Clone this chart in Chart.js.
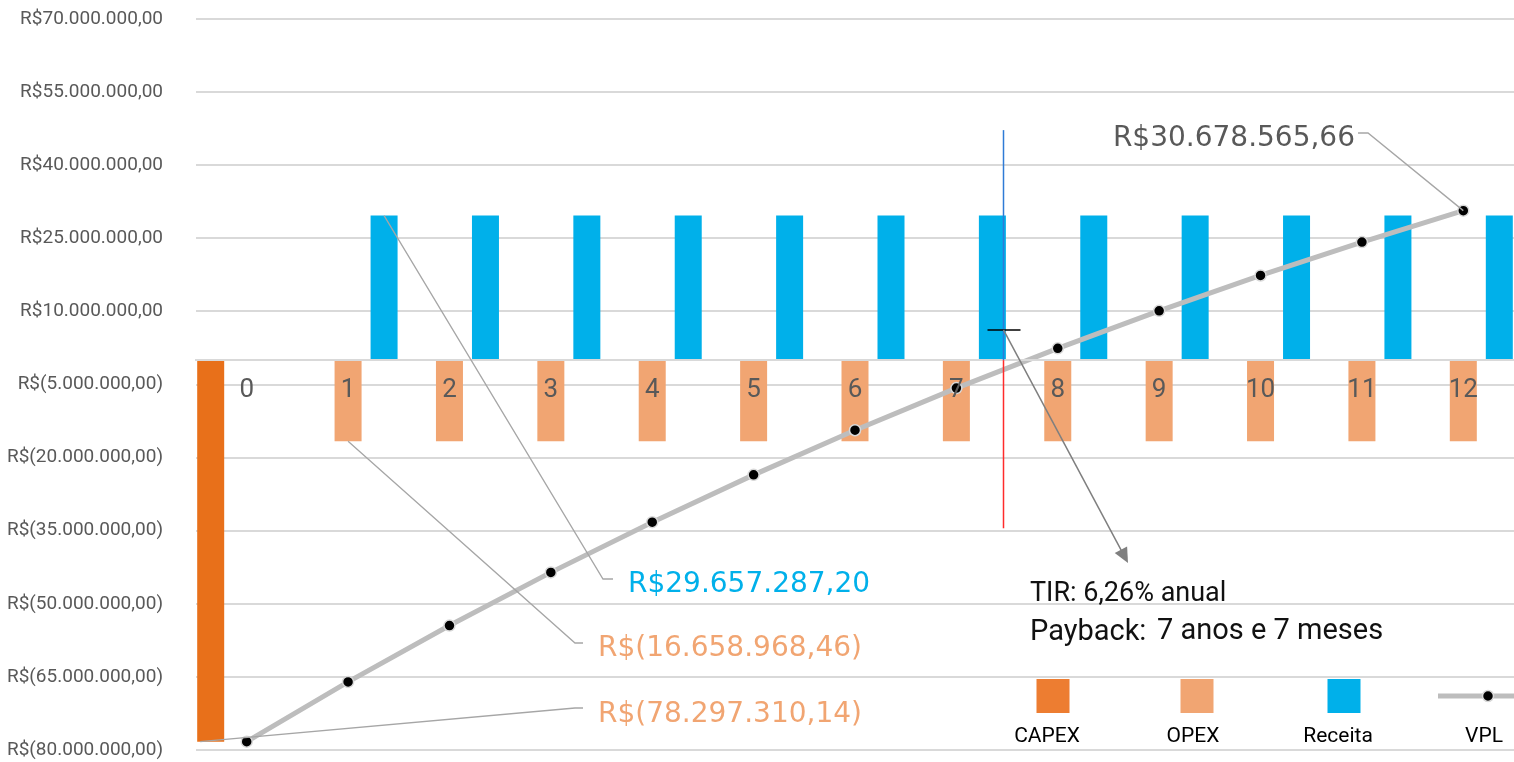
<!DOCTYPE html>
<html>
<head>
<meta charset="utf-8">
<script src="https://cdn.jsdelivr.net/npm/chart.js@4.4.1/dist/chart.umd.min.js"></script>
<style>
html,body{margin:0;padding:0;background:#fff;overflow:hidden}
#wrap{width:1514px;height:762px;position:relative}
</style>
</head>
<body>
<div id="wrap"><canvas id="c"></canvas></div>
<script>
// ---- data ----
const categories = ['0','1','2','3','4','5','6','7','8','9','10','11','12'];
const capexValues = [-78297310.14, null, null, null, null, null, null, null, null, null, null, null, null];
const opexValues = [null, -16658968.46, -16658968.46, -16658968.46, -16658968.46, -16658968.46, -16658968.46,
                    -16658968.46, -16658968.46, -16658968.46, -16658968.46, -16658968.46, -16658968.46];
const receitaValues = [null, 29657287.20, 29657287.20, 29657287.20, 29657287.20, 29657287.20, 29657287.20,
                       29657287.20, 29657287.20, 29657287.20, 29657287.20, 29657287.20, 29657287.20];
const vplValues = [-78297310.14, -66034000, -54466000, -43552000, -33256000, -23543000, -14380000,
                   -5735000, 2420000, 10114000, 17372000, 24219000, 30678565.66];
const yTickValues = [70e6, 55e6, 40e6, 25e6, 10e6, -5e6, -20e6, -35e6, -50e6, -65e6, -80e6];
const seriesNames = ['CAPEX', 'OPEX', 'Receita', 'VPL'];
const tirText = 'TIR: 6,26% anual';
const paybackLabel = 'Payback:';
const paybackValue = '7 anos e 7 meses';
const paybackAt = 7.46;          // category position of payback marker line
const paybackLineTop = 47.2e6;
const paybackLineBottom = -34.5e6;
const paybackCross = 6.2e6;

// ---- styles ----
const C_CAPEX = '#E8701A', C_CAPEX_LEG = '#ED7D31', C_OPEX = '#F1A572', C_REC = '#00B0EA', C_VPL = '#BDBDBD';
const GRID = '#D9D9D9', TXT = '#595959';

function brl(v) {
  const neg = v < 0;
  let [i, d] = Math.abs(v).toFixed(2).split('.');
  i = i.replace(/\B(?=(\d{3})+(?!\d))/g, '.');
  return 'R$' + (neg ? '(' : '') + i + ',' + d + (neg ? ')' : '');
}

const overlay = {
  id: 'overlay',
  afterDraw(chart) {
    const ctx = chart.ctx, xs = chart.scales.x, ys = chart.scales.y;
    const capexBar = chart.getDatasetMeta(0).data[0];
    const opexBar = chart.getDatasetMeta(1).data[1];
    const recBar = chart.getDatasetMeta(2).data[1];
    const vplPt = chart.getDatasetMeta(3).data[12];
    ctx.save();

    // leader lines
    ctx.strokeStyle = '#A6A6A6'; ctx.lineWidth = 1.3;
    const poly = pts => { ctx.beginPath(); ctx.moveTo(pts[0][0], pts[0][1]); for (let k = 1; k < pts.length; k++) ctx.lineTo(pts[k][0], pts[k][1]); ctx.stroke(); };
    poly([[1358, 133], [1368, 133], [vplPt.x, vplPt.y]]);
    poly([[613, 579], [603, 579], [recBar.x, recBar.y]]);
    poly([[583, 643], [575, 643], [opexBar.x, opexBar.y]]);
    poly([[583, 708], [575, 708], [capexBar.x - capexBar.width / 2 + 3, capexBar.y]]);

    // callout texts
    ctx.textBaseline = 'alphabetic';
    ctx.font = '28px "DejaVu Sans"';
    ctx.fillStyle = TXT; ctx.textAlign = 'right';
    ctx.fillText(brl(vplValues[12]), 1355, 146);
    ctx.textAlign = 'left';
    ctx.fillStyle = C_REC; ctx.fillText(brl(receitaValues[1]), 628, 592);
    ctx.fillStyle = C_OPEX; ctx.fillText(brl(opexValues[1]), 598, 656);
    ctx.fillStyle = C_OPEX; ctx.fillText(brl(capexValues[0]), 598, 722);

    // payback marker
    const x7 = xs.getPixelForValue(7), x8 = xs.getPixelForValue(8);
    const px = Math.round(x7 + (paybackAt - 7) * (x8 - x7)) + 0.5;
    const y0 = ys.getPixelForValue(0);
    ctx.lineWidth = 1.5;
    ctx.strokeStyle = '#2E7BD6';
    ctx.beginPath(); ctx.moveTo(px, ys.getPixelForValue(paybackLineTop)); ctx.lineTo(px, y0); ctx.stroke();
    ctx.strokeStyle = '#FF2B2B';
    ctx.beginPath(); ctx.moveTo(px, y0); ctx.lineTo(px, ys.getPixelForValue(paybackLineBottom)); ctx.stroke();
    const yc = ys.getPixelForValue(paybackCross);
    ctx.strokeStyle = '#000';
    ctx.beginPath(); ctx.moveTo(px - 16, yc); ctx.lineTo(px + 17, yc); ctx.stroke();
    // arrow
    const ax = 1128, ay = 563;
    ctx.strokeStyle = '#7F7F7F'; ctx.fillStyle = '#7F7F7F'; ctx.lineWidth = 1.5;
    const ang = Math.atan2(ay - yc, ax - px);
    ctx.beginPath(); ctx.moveTo(px, yc); ctx.lineTo(ax - 12 * Math.cos(ang), ay - 12 * Math.sin(ang)); ctx.stroke();
    ctx.beginPath();
    ctx.moveTo(ax, ay);
    ctx.lineTo(ax - 15 * Math.cos(ang) + 7 * Math.sin(ang), ay - 15 * Math.sin(ang) - 7 * Math.cos(ang));
    ctx.lineTo(ax - 15 * Math.cos(ang) - 7 * Math.sin(ang), ay - 15 * Math.sin(ang) + 7 * Math.cos(ang));
    ctx.closePath(); ctx.fill();

    // TIR / payback text
    ctx.fillStyle = '#111'; ctx.textAlign = 'left';
    ctx.font = '27px Roboto';
    ctx.fillText(tirText, 1030, 601);
    ctx.font = '29px Roboto';
    ctx.fillText(paybackLabel, 1030, 640);
    ctx.font = '29px Roboto';
    ctx.fillText(paybackValue, 1157, 639);

    // legend
    const legY = 696;
    const sq = (cx, col) => { ctx.fillStyle = col; ctx.fillRect(cx - 16.5, legY - 17, 33, 34); };
    sq(1053, C_CAPEX_LEG); sq(1197, C_OPEX); sq(1344, C_REC);
    ctx.strokeStyle = C_VPL; ctx.lineWidth = 5;
    ctx.beginPath(); ctx.moveTo(1438, legY); ctx.lineTo(1514, legY); ctx.stroke();
    ctx.beginPath(); ctx.arc(1488, legY, 5.5, 0, Math.PI * 2);
    ctx.fillStyle = '#000'; ctx.fill(); ctx.lineWidth = 1.5; ctx.strokeStyle = '#D9D9D9'; ctx.stroke();
    ctx.fillStyle = '#000'; ctx.textAlign = 'center'; ctx.font = '21px Roboto';
    const legX = [1047, 1193, 1338, 1484];
    seriesNames.forEach((n, k) => ctx.fillText(n, legX[k], 742));
    ctx.restore();
  }
};

new Chart(document.getElementById('c'), {
  data: {
    labels: categories,
    datasets: [
      { type: 'bar', label: seriesNames[0], data: capexValues, backgroundColor: C_CAPEX, order: 2 },
      { type: 'bar', label: seriesNames[1], data: opexValues, backgroundColor: C_OPEX, order: 2 },
      { type: 'bar', label: seriesNames[2], data: receitaValues, backgroundColor: C_REC, order: 2 },
      { type: 'line', label: seriesNames[3], data: vplValues, borderColor: C_VPL, borderWidth: 5,
        pointRadius: 5.5, pointBackgroundColor: '#000', pointBorderColor: '#D9D9D9', pointBorderWidth: 1.5,
        tension: 0, order: 0 }
    ]
  },
  options: {
    responsive: true, maintainAspectRatio: false, animation: false, devicePixelRatio: 1,
    layout: { autoPadding: false, padding: { top: 19, bottom: 12, left: 0, right: 0 } },
    datasets: { bar: { categoryPercentage: 1.0653, barPercentage: 0.75 } },
    plugins: { legend: { display: false }, tooltip: { enabled: false } },
    scales: {
      x: {
        type: 'category', position: { y: 0 },
        afterFit: s => { s.height = 0; s.paddingLeft = 0; s.paddingRight = 0; s.paddingTop = 0; s.paddingBottom = 0; },
        grid: { display: false, drawTicks: false },
        border: { display: true, color: GRID, width: 2, z: 1 },
        ticks: { z: 1, color: TXT, font: { family: 'Roboto', size: 26 }, padding: 15, maxRotation: 0, autoSkip: false }
      },
      y: {
        type: 'linear', min: -80e6, max: 70e6,
        afterBuildTicks: s => { s.ticks = yTickValues.map(v => ({ value: v })); },
        afterFit: s => { s.width = 196; s.paddingTop = 0; s.paddingBottom = 0; s.paddingLeft = 0; s.paddingRight = 0; },
        grid: { color: GRID, lineWidth: 2, drawTicks: false },
        border: { display: false },
        ticks: { color: TXT, font: { family: 'Roboto', size: 19 }, padding: 33, callback: v => brl(v) }
      }
    }
  },
  plugins: [overlay]
});
</script>
</body>
</html>
